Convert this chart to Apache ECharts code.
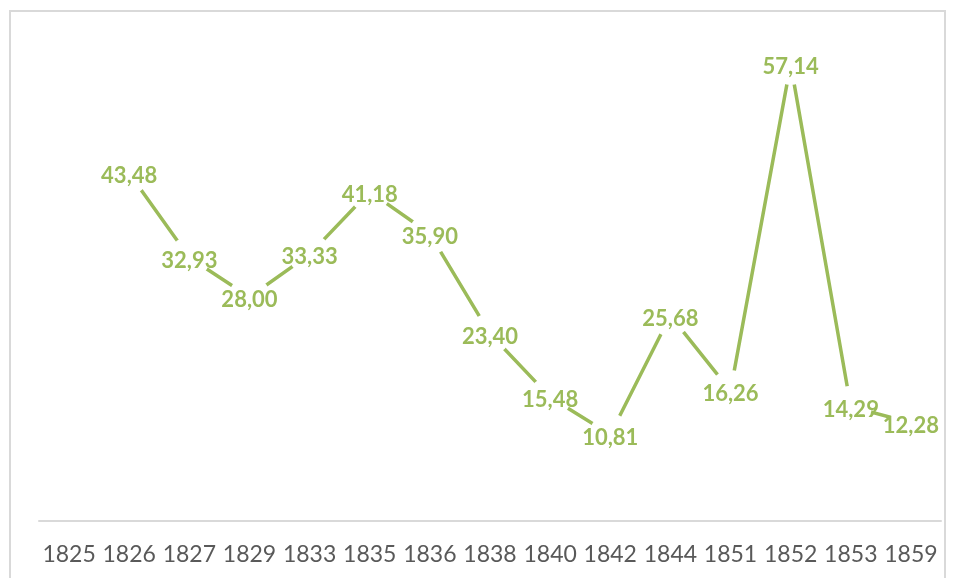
<!DOCTYPE html>
<html>
<head>
<meta charset="utf-8">
<script src="https://cdn.jsdelivr.net/npm/echarts@6/dist/echarts.min.js"></script>
<style>
  html, body { margin: 0; padding: 0; background: #fff; }
  #chart { width: 954px; height: 578px; }
</style>
</head>
<body>
<div id="chart"></div>
<script>
// Years shown on the category axis
const years = ['1825', '1826', '1827', '1829', '1833', '1835', '1836', '1838',
               '1840', '1842', '1844', '1851', '1852', '1853', '1859'];
// Percentage per year (no value recorded for 1825)
const values = [null, 43.48, 32.93, 28.00, 33.33, 41.18, 35.90, 23.40,
                15.48, 10.81, 25.68, 16.26, 57.14, 14.29, 12.28];

const green = '#9BBB59';
const chart = echarts.init(document.getElementById('chart'));

chart.setOption({
  animation: false,
  backgroundColor: '#fff',
  graphic: [{
    type: 'rect',
    shape: { x: 10, y: 11, width: 935, height: 620 },
    style: { fill: 'none', stroke: '#D9D9D9', lineWidth: 2 },
    silent: true
  }],
  grid: { left: 39, right: 13, top: 41, bottom: 57, containLabel: false },
  xAxis: {
    type: 'category',
    data: years,
    boundaryGap: true,
    axisLine: { lineStyle: { color: '#D9D9D9', width: 2 } },
    axisTick: { show: false },
    axisLabel: {
      color: '#595959',
      fontFamily: 'Lato',
      fontSize: 23,
      margin: 22,
      interval: 0
    },
    splitLine: { show: false }
  },
  yAxis: {
    type: 'value',
    min: 0,
    max: 60,
    show: false
  },
  series: [{
    type: 'line',
    data: values,
    // large white markers open a gap in the line around each value label
    symbol: 'circle',
    symbolSize: 42,
    showSymbol: true,
    connectNulls: false,
    lineStyle: { color: green, width: 3.5 },
    itemStyle: { color: '#fff', borderWidth: 0 },
    emphasis: { disabled: true },
    label: {
      show: true,
      position: 'inside',
      offset: [0, 3],
      color: green,
      fontFamily: 'Lato',
      fontWeight: 'bold',
      fontSize: 22,
      formatter: p => p.value == null ? '' : p.value.toFixed(2).replace('.', ',')
    }
  }]
});
</script>
</body>
</html>
